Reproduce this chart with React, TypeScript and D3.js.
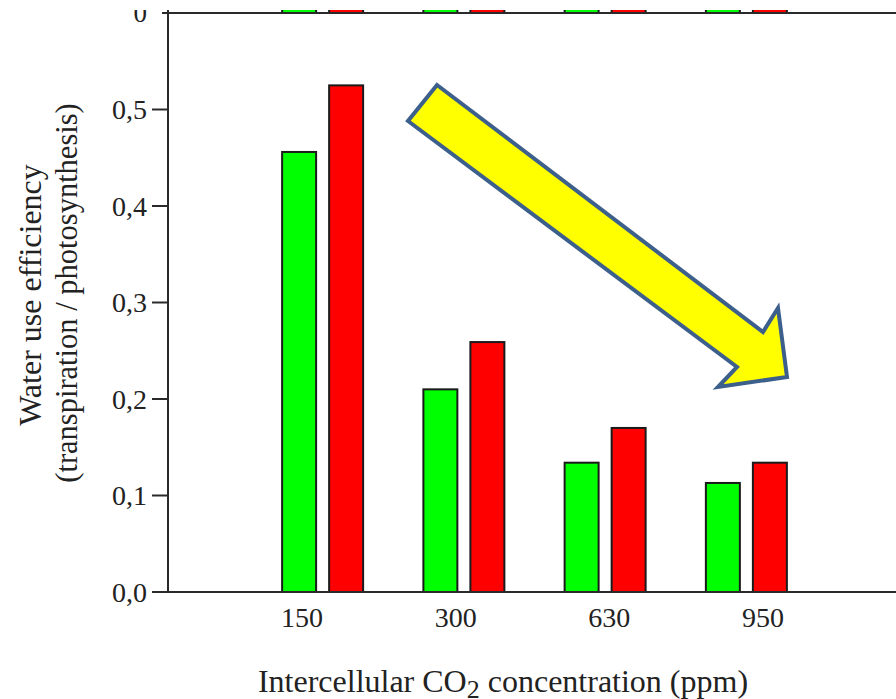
import React from "react";
import * as d3 from "d3";

// ---- data ----
const categories = ["150", "300", "630", "950"];
const seriesNames = ["green", "red"];
const greenValues = [0.456, 0.21, 0.134, 0.113];
const redValues = [0.525, 0.259, 0.17, 0.134];
const yTicks = [0, 0.1, 0.2, 0.3, 0.4, 0.5];
const seriesColors = ["#00ff00", "#ff0000"];

const W = 896;
const H = 699;

export default function App() {
  const y = d3.scaleLinear().domain([0, 0.6]).range([592, 13]);
  const x0 = d3.scaleBand<string>().domain(categories).range([252, 817]).padding(0);
  const groupW = 81;
  const x1 = d3
    .scaleBand<string>()
    .domain(seriesNames)
    .range([(x0.bandwidth() - groupW) / 2, (x0.bandwidth() + groupW) / 2])
    .paddingInner(0.277)
    .paddingOuter(0);
  const xLabel = d3.scalePoint<string>().domain(categories).range([302, 763]);
  const fmt = (v: number) => d3.format(".1f")(v).replace(".", ",");
  const values = [greenValues, redValues];

  // upper (cropped) panel shares the x layout, its baseline is the top frame line
  const upperBase = y(0.6);

  const arrow: [number, number][] = [
    [437, 85],
    [763, 332],
    [778, 308],
    [787, 377],
    [718, 387],
    [737, 367],
    [408, 121],
  ];
  const line = d3.line();

  const font = "'Liberation Serif', 'Times New Roman', serif";
  const axisColor = "#2a2a2a";

  return (
    <div style={{ position: "absolute", left: 0, top: 0, width: W, height: H, background: "#fff" }}>
      <svg width={W} height={H} style={{ display: "block" }} fontFamily={font}>
        <defs>
          <clipPath id="crop">
            <rect x={0} y={10} width={W} height={H - 10} />
          </clipPath>
        </defs>
        <rect width={W} height={H} fill="#fff" />
        <g clipPath="url(#crop)">
          {/* upper cropped panel bars */}
          {categories.map((c) =>
            seriesNames.map((s, si) => (
              <rect
                key={"u" + c + s}
                x={(x0(c) as number) + (x1(s) as number)}
                y={upperBase - 40}
                width={x1.bandwidth()}
                height={40}
                fill={seriesColors[si]}
                stroke="#1a1a1a"
                strokeWidth={2}
              />
            ))
          )}
          {/* upper panel label */}
          <text x={147} y={upperBase} dy="0.35em" textAnchor="end" fontSize={27} fill="#222">
            0
          </text>

          {/* bars */}
          {categories.map((c, ci) =>
            seriesNames.map((s, si) => {
              const v = values[si][ci];
              return (
                <rect
                  key={c + s}
                  x={(x0(c) as number) + (x1(s) as number)}
                  y={y(v)}
                  width={x1.bandwidth()}
                  height={y(0) - y(v)}
                  fill={seriesColors[si]}
                  stroke="#1a1a1a"
                  strokeWidth={2}
                />
              );
            })
          )}

          {/* frame lines */}
          <line x1={162} x2={W} y1={y(0.6)} y2={y(0.6)} stroke={axisColor} strokeWidth={2} />
          <line x1={162} x2={W} y1={y(0)} y2={y(0)} stroke={axisColor} strokeWidth={2} />
          <line x1={168} x2={168} y1={0} y2={y(0)} stroke={axisColor} strokeWidth={2} />

          {/* y ticks */}
          {yTicks.map((t) => (
            <g key={t}>
              <line x1={152} x2={168} y1={y(t)} y2={y(t)} stroke={axisColor} strokeWidth={2} />
              <text x={147} y={y(t)} dy="0.35em" textAnchor="end" fontSize={28} fill="#222">
                {fmt(t)}
              </text>
            </g>
          ))}

          {/* x tick labels */}
          {categories.map((c) => (
            <text key={"xl" + c} x={xLabel(c)} y={627} textAnchor="middle" fontSize={28} fill="#222">
              {c}
            </text>
          ))}

          {/* axis titles */}
          <text x={503} y={692} textAnchor="middle" fontSize={32} fill="#222">
            Intercellular CO
            <tspan dy={6} fontSize={26}>2</tspan>
            <tspan dy={-6}> concentration (ppm)</tspan>
          </text>
          <g transform="translate(41,295) rotate(-90)">
            <text x={0} y={0} textAnchor="middle" fontSize={32} fill="#222">
              Water use efficiency
            </text>
          </g>
          <g transform="translate(77,293) rotate(-90)">
            <text x={0} y={0} textAnchor="middle" fontSize={30.5} fill="#222">
              (transpiration / photosynthesis)
            </text>
          </g>

          {/* arrow annotation */}
          <path
            d={line(arrow) + "Z"}
            fill="#ffff00"
            stroke="#3d5f8c"
            strokeWidth={4}
            strokeLinejoin="miter"
          />
        </g>
      </svg>
    </div>
  );
}
